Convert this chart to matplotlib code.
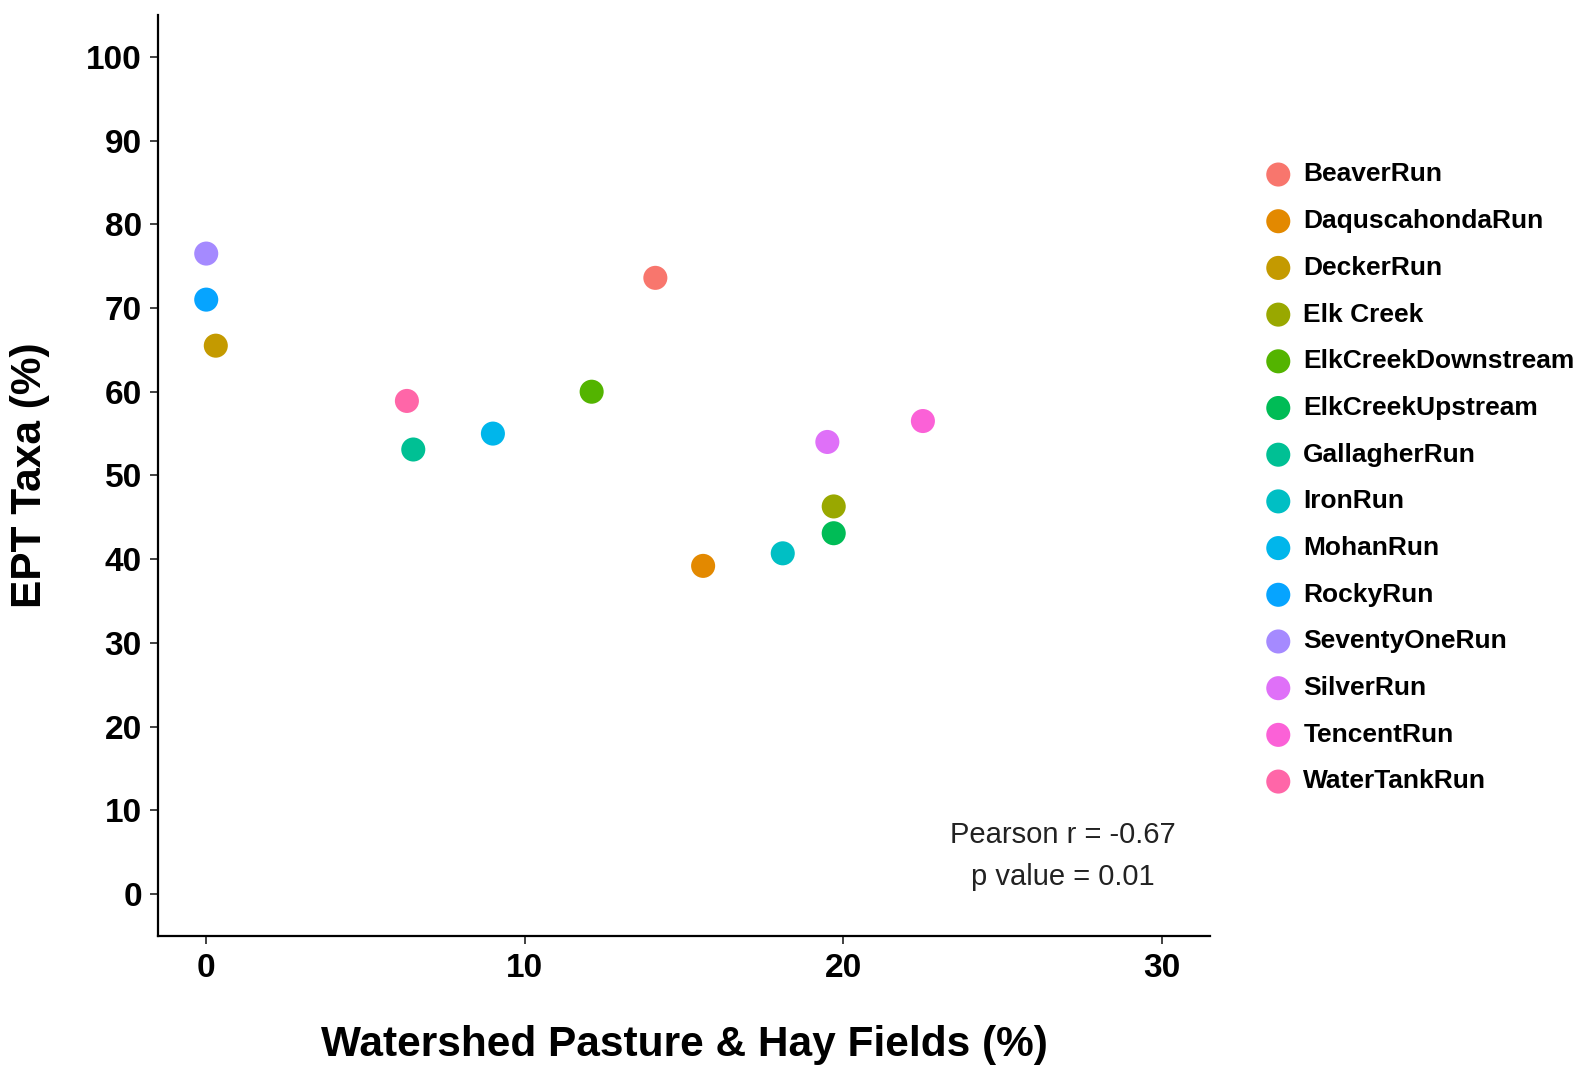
import matplotlib.pyplot as plt

# Sites, watershed pasture/hay cover and EPT taxa percentage
sites = ["BeaverRun", "DaquscahondaRun", "DeckerRun", "Elk Creek",
         "ElkCreekDownstream", "ElkCreekUpstream", "GallagherRun", "IronRun",
         "MohanRun", "RockyRun", "SeventyOneRun", "SilverRun", "TencentRun",
         "WaterTankRun"]
pasture_hay = [14.1, 15.6, 0.3, 19.7, 12.1, 19.7, 6.5, 18.1, 9.0, 0.0, 0.0,
               19.5, 22.5, 6.3]
ept_taxa = [73.6, 39.2, 65.5, 46.3, 60.0, 43.1, 53.1, 40.7, 55.0, 71.0, 76.5,
            54.0, 56.5, 58.9]

# ggplot default hue palette for 14 groups
colors = ["#F8766D", "#E38900", "#C49A00", "#99A800", "#53B400", "#00BC56",
          "#00C094", "#00BFC4", "#00B6EB", "#06A4FF", "#A58AFF", "#DF70F8",
          "#FB61D7", "#FF66A8"]

plt.rcParams['font.family'] = ['Liberation Sans', 'DejaVu Sans']

fig = plt.figure(figsize=(15.83, 10.67), dpi=100)
ax = fig.add_axes([0.1001, 0.1228, 0.664, 0.8632])

for site, x, y, c in zip(sites, pasture_hay, ept_taxa, colors):
    ax.scatter(x, y, s=300, color=c, edgecolors='none', label=site, zorder=3)

ax.set_xlim(-1.5, 31.5)
ax.set_ylim(-5, 105)
ax.set_xticks([0, 10, 20, 30])
ax.set_yticks(range(0, 101, 10))

for side in ['top', 'right']:
    ax.spines[side].set_visible(False)
for side in ['left', 'bottom']:
    ax.spines[side].set_linewidth(1.6)
    ax.spines[side].set_color('black')

ax.tick_params(axis='both', length=6, width=1.3, color='#333333',
               labelsize=24, pad=6)
for lbl in ax.get_xticklabels() + ax.get_yticklabels():
    lbl.set_fontweight('bold')

ax.set_xlabel("Watershed Pasture & Hay Fields (%)", fontsize=30.5,
              fontweight='bold', labelpad=30)
ax.set_ylabel("EPT Taxa (%)", fontsize=30.5, fontweight='bold', labelpad=26)

ax.text(26.9, 7.1, "Pearson r = -0.67", fontsize=21, ha='center', va='center',
        color='#222222')
ax.text(26.9, 2.0, "p value = 0.01", fontsize=21, ha='center', va='center',
        color='#222222')

leg = fig.legend(loc='upper left', bbox_to_anchor=(0.7825, 0.87),
                 frameon=False, fontsize=19, handlelength=1.2,
                 handletextpad=0.35, labelspacing=0.86, markerscale=1.0)
for t in leg.get_texts():
    t.set_fontweight('bold')

fig.savefig('out.png', dpi=100)
